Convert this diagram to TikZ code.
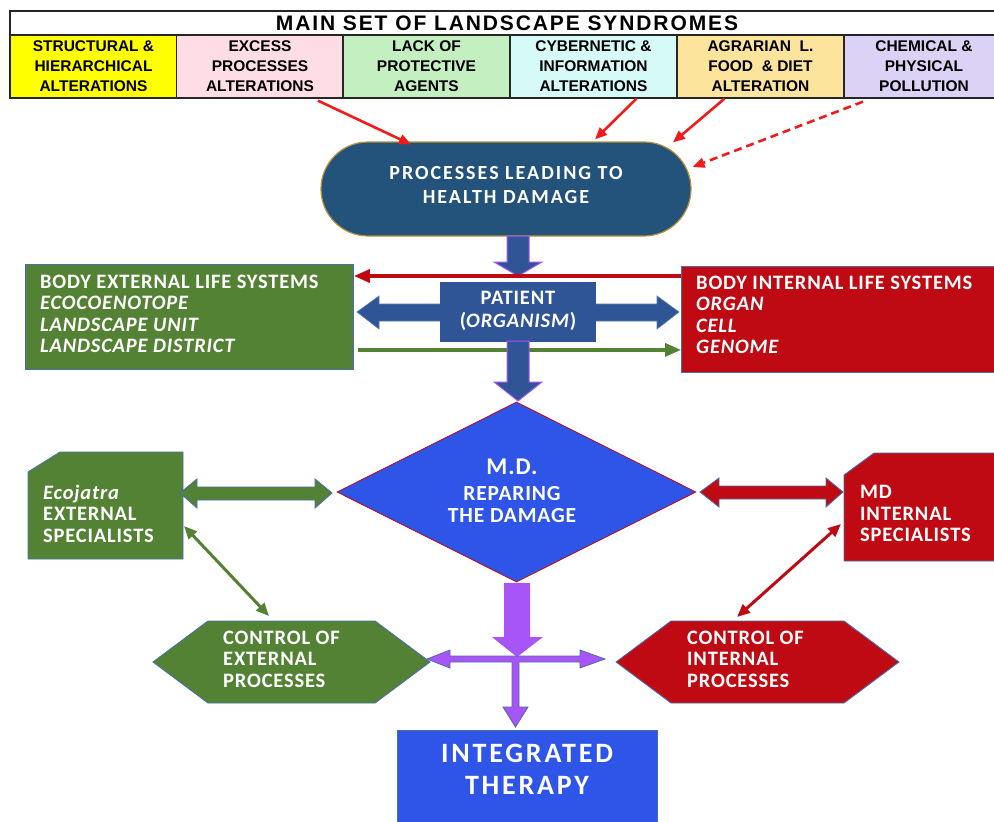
\documentclass[tikz,border=0pt]{standalone}
\usepackage{fontspec}
\setmainfont{Carlito}
\newfontfamily\cf[LetterSpace=4]{Carlito}
\newfontfamily\cfw[LetterSpace=10]{Carlito}
\newfontfamily\af{Liberation Sans}
\newfontfamily\tf[LetterSpace=9]{Liberation Sans}
\usetikzlibrary{arrows.meta,calc,shapes.geometric}
\definecolor{gr}{HTML}{548235}
\definecolor{rd}{HTML}{BF0A14}
\definecolor{navy}{HTML}{23527A}
\definecolor{pblue}{HTML}{2F5597}
\definecolor{bblue}{HTML}{2E55E8}
\definecolor{purp}{HTML}{A855F7}
\definecolor{edgeb}{HTML}{4A6FA8}
\definecolor{gold}{HTML}{B8923A}
\definecolor{brightred}{HTML}{F21B1B}
\definecolor{yel}{HTML}{FFFF00}
\definecolor{pnk}{HTML}{FFDDE6}
\definecolor{lgr}{HTML}{C4EFC0}
\definecolor{lcy}{HTML}{D6FAF8}
\definecolor{lor}{HTML}{FCE49C}
\definecolor{lav}{HTML}{DCD2F5}
\begin{document}
\begin{tikzpicture}[x=1pt,y=-1pt,
  cell/.style={draw=black!85, line width=1.3pt, minimum width=167pt, minimum height=63pt, inner sep=0pt, align=center, font=\af\bfseries\fontsize{15.5}{20}\selectfont},
  wtxt/.style={text=white, inner sep=0pt, align=left, anchor=north west},
  edgeline/.style={draw=edgeb, line width=0.9pt},
  redarr/.style={draw=brightred, line width=2.6pt, -{Triangle[length=12pt,width=10pt]}},
  thinarr/.style={line width=3.5pt, -{Triangle[length=16pt,width=13pt]}},
  dblarr/.style={line width=3pt, {Triangle[length=13pt,width=11pt]}-{Triangle[length=13pt,width=11pt]}},
  boxfont/.style={font=\cf\bfseries\fontsize{20.5}{21.5}\selectfont}
]
\useasboundingbox (0,0) rectangle (994,822);

% header
\draw[line width=1.3pt, draw=black!85, fill=white] (10,11) rectangle (1010,35);
\node[font=\tf\bfseries\fontsize{21}{24}\selectfont, inner sep=0pt] (title) at (507,23.5) {MAIN SET OF LANDSCAPE SYNDROMES};
\node[cell, fill=yel] (c1) at (93.5,66.5) {STRUCTURAL \&\\HIERARCHICAL\\ALTERATIONS};
\node[cell, fill=pnk] (c2) at (260,66.5) {EXCESS\\PROCESSES\\ALTERATIONS};
\node[cell, fill=lgr] (c3) at (426.5,66.5) {LACK OF\\PROTECTIVE\\AGENTS};
\node[cell, fill=lcy] (c4) at (593.5,66.5) {CYBERNETIC \&\\INFORMATION\\ALTERATIONS};
\node[cell, fill=lor] (c5) at (760.5,66.5) {AGRARIAN~~L.\\FOOD~~\& DIET\\ALTERATION};
\node[cell, fill=lav, minimum width=160pt] (c6) at (924,66.5) {CHEMICAL \&\\PHYSICAL\\POLLUTION};

% processes
\node[fill=navy, draw=gold, line width=1.2pt, rounded corners=47pt, minimum width=370pt, minimum height=94pt] (proc) at (506,189) {};
\node[text=white, align=center, inner sep=0pt, font=\cfw\bfseries\fontsize{20}{23.5}\selectfont] (proct) at (506,185) {PROCESSES LEADING TO\\HEALTH DAMAGE};

\draw[redarr] ($(c2.south)+(58,2)$) -- ($(proc.north)+(-95,3)$);
\draw[redarr] ($(c4.south)+(43,0)$) -- ($(proc.north)+(89,-2)$);
\draw[redarr] ($(c5.south)+(-36,0)$) -- ($(proc.north)+(167,1)$);
\draw[redarr, dash pattern=on 8pt off 5pt] ($(c6.south)+(-61,3)$) -- ($(proc.east)+(1,-22)$);

% patient level
\filldraw[fill=pblue, draw=purp, line width=1pt] (507,236) -- (529,236) -- (529,262) -- (542,262) -- (518,276) -- (494,262) -- (507,262) -- cycle;
\filldraw[fill=pblue, draw=pblue!80!white, line width=0.6pt] (357,312) -- (379,296) -- (379,304) -- (657,304) -- (657,296) -- (679,312) -- (657,329) -- (657,321) -- (379,321) -- (379,329) -- cycle;
\node[fill=pblue, minimum width=156pt, minimum height=60pt, inner sep=0pt] (pat) at (518,311.5) {};
\node[text=white, align=center, inner sep=0pt, font=\cf\bfseries\fontsize{20.5}{23}\selectfont] (patt) at (518,311) {PATIENT\\(\textit{ORGANISM})};

\node[fill=gr, edgeline, minimum width=328pt, minimum height=105pt, anchor=north west, inner sep=0pt] (ext) at (25,264) {};
\node[wtxt, boxfont] (extt) at (40,274.5) {BODY EXTERNAL LIFE SYSTEMS\\\textit{ECOCOENOTOPE}\\\textit{LANDSCAPE UNIT}\\\textit{LANDSCAPE DISTRICT}};
\node[fill=rd, edgeline, minimum width=330pt, minimum height=106pt, anchor=north west, inner sep=0pt] (int) at (681,266) {};
\node[wtxt, boxfont] (intt) at (696,275.5) {BODY INTERNAL LIFE SYSTEMS\\\textit{ORGAN}\\\textit{CELL}\\\textit{GENOME}};

\draw[rd, thinarr] ($(int.north west)+(0,10)$) -- ($(ext.north east)+(0,12)$);
\draw[gr, thinarr] ($(ext.south east)+(4,-20)$) -- ($(int.south west)+(0,-23)$);

\filldraw[fill=pblue, draw=purp, line width=1pt] (507,341) -- (529,341) -- (529,382) -- (542,382) -- (518,401) -- (494,382) -- (507,382) -- cycle;

% diamond
\node[diamond, aspect=2, fill=bblue, draw=rd, line width=0.8pt, minimum width=359pt, minimum height=180pt, inner sep=0pt] (md) at (516.5,492) {};
\node[text=white, align=center, inner sep=0pt, font=\cf\bfseries\fontsize{21.5}{22}\selectfont] (mdt) at (512,491) {{\fontsize{24}{24}\selectfont M.D.}\\[4pt]REPARING\\THE DAMAGE};

% ecojatra
\filldraw[fill=gr, edgeline] (28,472) -- (60,452) -- (183,452) -- (183,559) -- (28,559) -- cycle;
\coordinate (ecoR) at (184,526);
\node[wtxt, boxfont] (eco) at (43,484.5) {\textit{Ecojatra}\\EXTERNAL\\SPECIALISTS};
\filldraw[fill=gr, edgeline] (180,493) -- (197,479) -- (197,487) -- (315,487) -- (315,479) -- (332,493) -- (315,508) -- (315,500) -- (197,500) -- (197,508) -- cycle;

% md internal
\filldraw[fill=rd, edgeline] (844,475) -- (874,453) -- (1010,453) -- (1010,561) -- (844,561) -- cycle;
\coordinate (mdiL) at (841,524);
\node[wtxt, boxfont] (mdi) at (860,485.5) {MD\\INTERNAL\\SPECIALISTS};
\filldraw[fill=rd, edgeline] (700,492) -- (719,478) -- (719,486) -- (826,486) -- (826,478) -- (843,492) -- (826,507) -- (826,499) -- (719,499) -- (719,507) -- cycle;

% controls
\filldraw[fill=gr, edgeline] (153,662) -- (208,621) -- (375,621) -- (430,662) -- (375,703) -- (208,703) -- cycle;
\coordinate (cextT) at (269,616);
\node[wtxt, boxfont] (cext) at (223,630.5) {CONTROL OF\\EXTERNAL\\PROCESSES};
\filldraw[fill=rd, edgeline] (616,662) -- (671,621) -- (844,621) -- (899,662) -- (844,703) -- (671,703) -- cycle;
\coordinate (cintT) at (737,617);
\node[wtxt, boxfont] (cint) at (687,630.5) {CONTROL OF\\INTERNAL\\PROCESSES};

\draw[gr, dblarr] (ecoR) -- (cextT);
\draw[rd, dblarr] (mdiL) -- (cintT);

% purple arrows
\fill[purp] (504,583) -- (530,583) -- (530,637) -- (543,637) -- (517,657) -- (492,637) -- (504,637) -- cycle;
\filldraw[fill=purp, draw=edgeb, line width=0.8pt] (427,659) -- (450,650) -- (450,656) -- (580,656) -- (580,650) -- (605,659) -- (580,668) -- (580,662) -- (450,662) -- (450,668) -- cycle;
\filldraw[fill=purp, draw=edgeb, line width=0.8pt] (512,662) -- (519,662) -- (519,707) -- (528,707) -- (515.5,727) -- (503,707) -- (512,707) -- cycle;
\fill[purp] (512.5,660.5) rectangle (518.5,663);

% integrated
\node[fill=bblue, edgeline, minimum width=260pt, minimum height=110pt, anchor=north west, inner sep=0pt] (it) at (397,730) {};
\node[text=white, align=center, inner sep=0pt, font=\cfw\bfseries\fontsize{28}{32}\selectfont] (itt) at (527,769) {INTEGRATED\\THERAPY};
\end{tikzpicture}
\end{document}
